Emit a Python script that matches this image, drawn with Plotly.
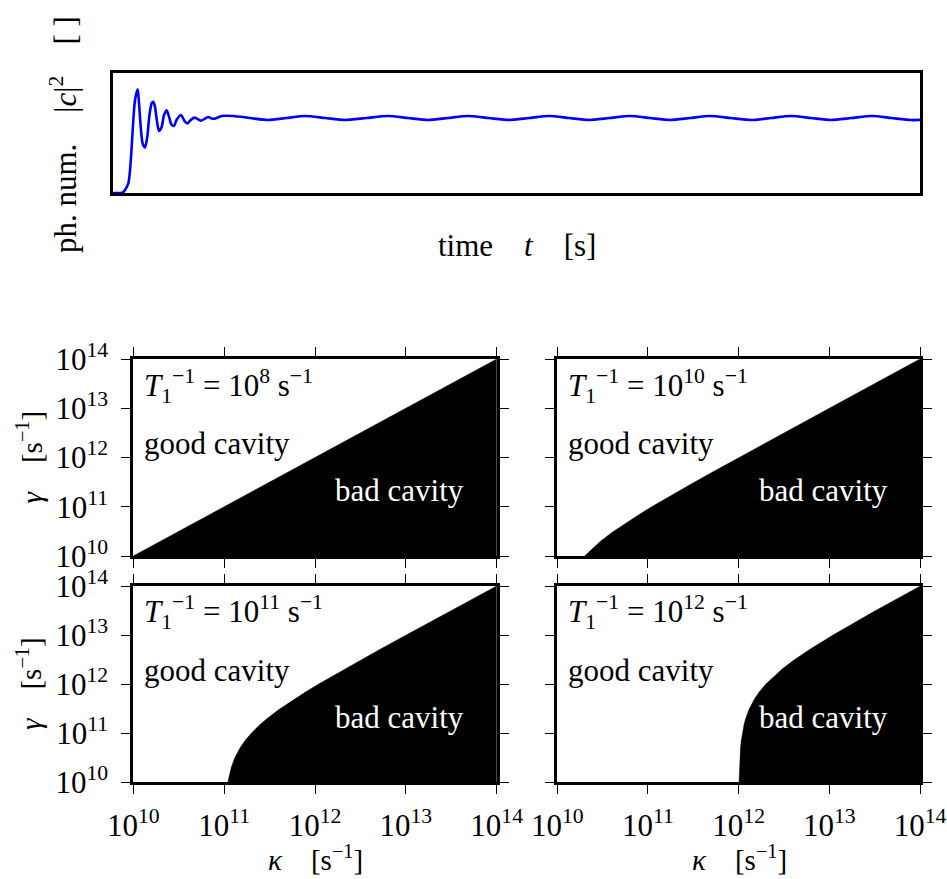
import plotly.graph_objects as go

W, H = 947, 879
FONT = "Liberation Serif"

# ---------------- top panel: photon number vs time (arbitrary units) ----------------
time_t = [0, 0.87, 1.24, 1.49, 1.90, 2.11, 2.32, 2.52, 2.73, 3.06, 3.22, 3.47, 3.68, 3.97,
          4.25, 4.50, 4.80, 4.99, 5.20, 5.42, 5.70, 6.03, 6.32, 6.65, 6.94, 7.27, 7.56, 7.89,
          8.43, 8.92, 9.21, 9.67, 10.07, 10.57, 10.90, 11.40, 11.81, 12.23, 12.64, 13.47,
          14.91, 16.98, 19.21, 21.50, 23.79, 26.27, 28.75, 31.41, 34.08, 36.55, 39.03, 41.51,
          43.99, 46.53, 49.07, 51.55, 54.03, 56.51, 58.98, 61.52, 64.06, 66.54, 69.02, 71.50,
          73.98, 76.52, 79.06, 81.54, 84.01, 86.49, 88.97, 91.51, 94.05, 96.47, 98.88, 100]
photon_num = [0, 0, 0.005, 0.025, 0.08, 0.19, 0.39, 0.61, 0.775, 0.864, 0.75, 0.525, 0.41, 0.38,
              0.47, 0.64, 0.75, 0.76, 0.72, 0.61, 0.517, 0.55, 0.65, 0.69, 0.636, 0.567, 0.56, 0.61,
              0.65, 0.594, 0.58, 0.61, 0.628, 0.614, 0.603, 0.62, 0.633, 0.62, 0.62, 0.642,
              0.642, 0.625, 0.608, 0.625, 0.642, 0.625, 0.608, 0.625, 0.642, 0.625, 0.608, 0.625,
              0.642, 0.625, 0.608, 0.625, 0.642, 0.625, 0.608, 0.625, 0.642, 0.625, 0.608, 0.625,
              0.642, 0.625, 0.608, 0.625, 0.642, 0.625, 0.608, 0.625, 0.642, 0.625, 0.608, 0.609]

# ---------------- bottom panels: good / bad cavity boundary ----------------
gamma_vals = [1e10, 1.5e10, 2e10, 3e10, 5e10, 7e10, 1e11, 1.5e11, 2e11, 3e11, 5e11, 7e11,
              1e12, 2e12, 3e12, 5e12, 1e13, 3e13, 1e14]
kappa_boundary_1 = [1.0e10, 1.5e10, 2.0e10, 3.0e10, 5.0e10, 7.0e10, 1.0e11, 1.5e11, 2.0e11, 3.0e11,
                    5.0e11, 7.0e11, 1.0e12, 2.0e12, 3.0e12, 5.0e12, 1.0e13, 3.0e13, 1.0e14]
kappa_boundary_2 = [2.0e10, 2.5e10, 3.0e10, 4.0e10, 6.0e10, 8.0e10, 1.1e11, 1.6e11, 2.1e11, 3.1e11,
                    5.1e11, 7.1e11, 1.01e12, 2.01e12, 3.0e12, 5.0e12, 1.0e13, 3.0e13, 1.0e14]
kappa_boundary_3 = [1.1e11, 1.15e11, 1.2e11, 1.3e11, 1.5e11, 1.7e11, 2.0e11, 2.5e11, 3.0e11, 4.0e11,
                    6.0e11, 8.0e11, 1.1e12, 2.1e12, 3.1e12, 5.1e12, 1.01e13, 3.0e13, 1.0e14]
kappa_boundary_4 = [1.01e12, 1.015e12, 1.02e12, 1.03e12, 1.05e12, 1.07e12, 1.1e12, 1.15e12, 1.2e12,
                    1.3e12, 1.5e12, 1.7e12, 2.0e12, 3.0e12, 4.0e12, 6.0e12, 1.1e13, 3.1e13, 1.01e14]
kappa_boundaries = [kappa_boundary_1, kappa_boundary_2, kappa_boundary_3, kappa_boundary_4]
t1_inv_labels = ["10<sup>8</sup>", "10<sup>10</sup>", "10<sup>11</sup>", "10<sup>12</sup>"]

decade_ticks = [1e10, 1e11, 1e12, 1e13, 1e14]
decade_labels = ["10<sup>10</sup>", "10<sup>11</sup>", "10<sup>12</sup>", "10<sup>13</sup>", "10<sup>14</sup>"]
KAPPA_MAX, GAMMA_MIN = 1.2e14, 1e10

fig = go.Figure()

fig.add_trace(go.Scatter(x=time_t, y=photon_num, mode="lines",
                         line=dict(color="#0000ff", width=2.6, shape="spline", smoothing=0.7),
                         xaxis="x", yaxis="y", showlegend=False, hoverinfo="skip"))

for i, kb in enumerate(kappa_boundaries):
    ax = str(i + 2)
    px = list(kb) + [KAPPA_MAX, KAPPA_MAX]
    py = list(gamma_vals) + [gamma_vals[-1], GAMMA_MIN]
    fig.add_trace(go.Scatter(x=px, y=py, mode="lines", fill="toself", fillcolor="black",
                             line=dict(color="black", width=0.5),
                             xaxis="x" + ax, yaxis="y" + ax, showlegend=False, hoverinfo="skip"))

def px_x(v):
    return v / W

def px_y(v):
    return 1 - v / H

layout = dict(template="none", width=W, height=H,
              margin=dict(l=0, r=0, t=0, b=0, pad=0, autoexpand=False), autosize=False,
              paper_bgcolor="white", plot_bgcolor="white", showlegend=False,
              font=dict(family=FONT, size=28, color="black"))

layout["xaxis"] = dict(domain=[px_x(113), px_x(920)], range=[0, 100], showticklabels=False,
                       ticks="", showgrid=False, zeroline=False, showline=True, automargin=False,
                       linecolor="black", linewidth=2.5, mirror=True, anchor="y")
layout["yaxis"] = dict(domain=[px_y(193), px_y(73)], range=[0, 1], showticklabels=False,
                       ticks="", showgrid=False, zeroline=False, showline=True, automargin=False,
                       linecolor="black", linewidth=2.5, mirror=True, anchor="x")

xdom = {2: [px_x(133.3), px_x(496.7)], 3: [px_x(557.3), px_x(920)],
        4: [px_x(133.3), px_x(496.7)], 5: [px_x(557.3), px_x(920)]}
ydom = {2: [px_y(556), px_y(359)], 3: [px_y(556), px_y(359)],
        4: [px_y(782), px_y(586)], 5: [px_y(782), px_y(586)]}

tickfont = dict(family=FONT, size=31, color="black")
for k in [2, 3, 4, 5]:
    common = dict(type="log", range=[10, 14], tickvals=decade_ticks, ticktext=decade_labels,
                  ticks="outside", ticklen=9, tickwidth=1.2, tickcolor="black",
                  showline=True, linecolor="black", linewidth=3, mirror="ticks",
                  showgrid=False, zeroline=False, tickfont=tickfont, layer="above traces",
                  automargin=False)
    layout["xaxis%d" % k] = dict(common, domain=xdom[k], anchor="y%d" % k,
                                 showticklabels=(k in (4, 5)), ticklabelstandoff=5)
    layout["yaxis%d" % k] = dict(common, domain=ydom[k], anchor="x%d" % k,
                                 showticklabels=(k in (2, 4)), ticklabelstandoff=7)

ann = []
# top panel axis titles
ann.append(dict(text="time\u2003<i>t</i>\u2003[s]", x=px_x(516.5), y=px_y(245),
                xref="paper", yref="paper", showarrow=False, xanchor="center", yanchor="middle",
                font=dict(size=31)))
ann.append(dict(text="ph. num.\u2003|<i>c</i>|<sup>2</sup>\u2003[ ]", x=px_x(63), y=px_y(135),
                xref="paper", yref="paper", showarrow=False, xanchor="center", yanchor="middle",
                textangle=-90, font=dict(size=31)))
# bottom axis titles
for yc in [457.5, 684]:
    ann.append(dict(text="<i>γ</i>\u2003[s<sup>−1</sup>]", x=px_x(29), y=px_y(yc),
                    xref="paper", yref="paper", showarrow=False, xanchor="center",
                    yanchor="middle", textangle=-90, font=dict(size=29)))
for xc in [315, 739]:
    ann.append(dict(text="<i>κ</i>\u2003[s<sup>−1</sup>]", x=px_x(xc), y=px_y(858),
                    xref="paper", yref="paper", showarrow=False, xanchor="center",
                    yanchor="middle", font=dict(size=29)))
# in-panel labels
for i, lab in enumerate(t1_inv_labels):
    k = i + 2
    xr, yr = "x%d domain" % k, "y%d domain" % k
    ann.append(dict(text="<i>T</i><sub>1</sub><sup>−1</sup> = " + lab + " s<sup>−1</sup>",
                    x=0.025, y=0.865, xref=xr, yref=yr, showarrow=False,
                    xanchor="left", yanchor="middle", font=dict(size=31, color="black")))
    ann.append(dict(text="good cavity", x=0.025, y=0.57, xref=xr, yref=yr, showarrow=False,
                    xanchor="left", yanchor="middle", font=dict(size=31, color="black")))
    ann.append(dict(text="bad cavity", x=0.55, y=0.33, xref=xr, yref=yr, showarrow=False,
                    xanchor="left", yanchor="middle", font=dict(size=31, color="white")))

layout["annotations"] = ann
fig.update_layout(**layout)
fig.write_html("out.html")
